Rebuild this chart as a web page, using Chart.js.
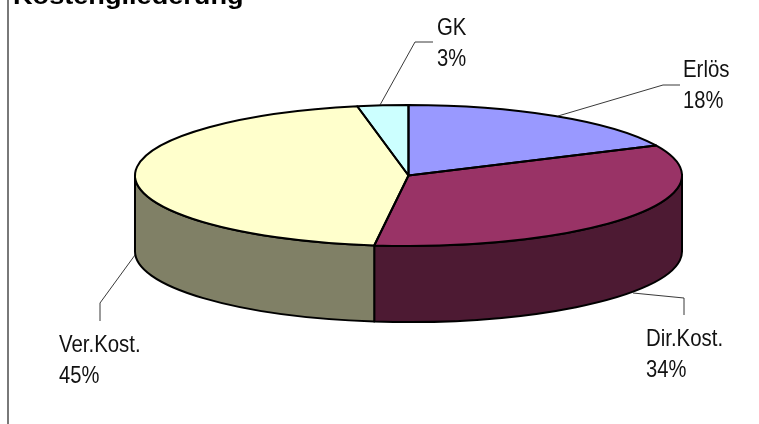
<!DOCTYPE html>
<html><head><meta charset="utf-8">
<style>html,body{margin:0;padding:0;background:#fff;overflow:hidden}canvas{display:block}</style>
<script src="https://cdn.jsdelivr.net/npm/chart.js@4"></script>
</head><body>
<canvas id="c" width="759" height="424"></canvas>
<script>
const categories = ['Erlös', 'Dir.Kost.', 'Ver.Kost.', 'GK'];
const values = [18, 34, 45, 3];
const topColors = ['#9999FF', '#993366', '#FFFFCC', '#CCFFFF'];
const sideColors = ['#4D4D80', '#4D1A33', '#808066', '#668080'];
const titleText = 'Kostengliederung';
const labelAnchors = [[683, 76.5], [646, 345.5], [59, 351.5], [437, 35]];
const leaders = [
  [[558,116],[663,85],[680,85]],
  [[633,293],[684,298],[684,315]],
  [[135,255],[100,303],[100,321]],
  [[380,105],[415,42],[433,42]]
];
const view = {cx: 408.5, cy: 175.5, rx: 273.5, ry: 70.5, depth: 76};

function squeezedText(ctx, text, x, y, sx) {
  ctx.save();
  ctx.translate(x, y);
  ctx.scale(sx, 1);
  ctx.fillText(text, 0, 0);
  ctx.restore();
}

const pie3d = {
  id: 'pie3d',
  beforeDatasetsDraw(chart) {
    const ctx = chart.ctx, arcs = chart.getDatasetMeta(0).data;
    const {cx, cy, rx, ry, depth} = view;
    arcs.forEach((a, i) => {
      const s = Math.max(a.startAngle, 0), e = Math.min(a.endAngle, Math.PI);
      if (e <= s) return;
      ctx.beginPath();
      ctx.ellipse(cx, cy, rx, ry, 0, s, e);
      ctx.lineTo(cx + rx * Math.cos(e), cy + ry * Math.sin(e) + depth);
      ctx.ellipse(cx, cy + depth, rx, ry, 0, e, s, true);
      ctx.closePath();
      ctx.fillStyle = sideColors[i];
      ctx.fill();
      ctx.lineWidth = 2; ctx.strokeStyle = '#000'; ctx.lineJoin = 'round';
      ctx.stroke();
    });
  },
  beforeDatasetDraw(chart) {
    const ctx = chart.ctx, a = chart.getDatasetMeta(0).data[0];
    const R = a.outerRadius, {cx, cy, rx, ry} = view;
    ctx.save();
    ctx.translate(cx, cy);
    ctx.scale(rx / R, ry / R);
    ctx.translate(-a.x, -a.y);
  },
  afterDatasetDraw(chart) {
    const ctx = chart.ctx, arcs = chart.getDatasetMeta(0).data;
    ctx.restore();
    const {cx, cy, rx, ry} = view;
    ctx.lineWidth = 2; ctx.strokeStyle = '#000'; ctx.lineJoin = 'round';
    arcs.forEach(a => {
      ctx.beginPath();
      ctx.moveTo(cx, cy);
      ctx.ellipse(cx, cy, rx, ry, 0, a.startAngle, a.endAngle);
      ctx.closePath();
      ctx.stroke();
    });
  },
  afterDraw(chart) {
    const ctx = chart.ctx;
    ctx.save();
    ctx.strokeStyle = '#404040'; ctx.lineWidth = 1.4;
    ctx.beginPath(); ctx.moveTo(8, 0); ctx.lineTo(8, 424); ctx.stroke();
    ctx.strokeStyle = '#222'; ctx.lineWidth = 0.9;
    leaders.forEach(l => {
      ctx.beginPath();
      l.forEach((p, i) => i ? ctx.lineTo(p[0], p[1]) : ctx.moveTo(p[0], p[1]));
      ctx.stroke();
    });
    ctx.fillStyle = '#000';
    ctx.textBaseline = 'alphabetic';
    ctx.font = 'bold 24px "Liberation Sans"';
    squeezedText(ctx, titleText, 13, 3.5, 1.13);
    ctx.fillStyle = '#111';
    ctx.font = '24px "Liberation Sans"';
    const total = values.reduce((p, v) => p + v, 0);
    categories.forEach((c, i) => {
      const [x, y] = labelAnchors[i];
      squeezedText(ctx, c, x, y, 0.85);
      squeezedText(ctx, Math.round(values[i] / total * 100) + '%', x, y + 31, 0.84);
    });
    ctx.restore();
  }
};

new Chart(document.getElementById('c'), {
  type: 'pie',
  data: {labels: categories, datasets: [{data: values, backgroundColor: topColors, borderWidth: 0}]},
  options: {
    responsive: false, animation: false, events: [],
    layout: {padding: 0},
    plugins: {legend: {display: false}, tooltip: {enabled: false}}
  },
  plugins: [pie3d]
});
</script>
</body></html>
